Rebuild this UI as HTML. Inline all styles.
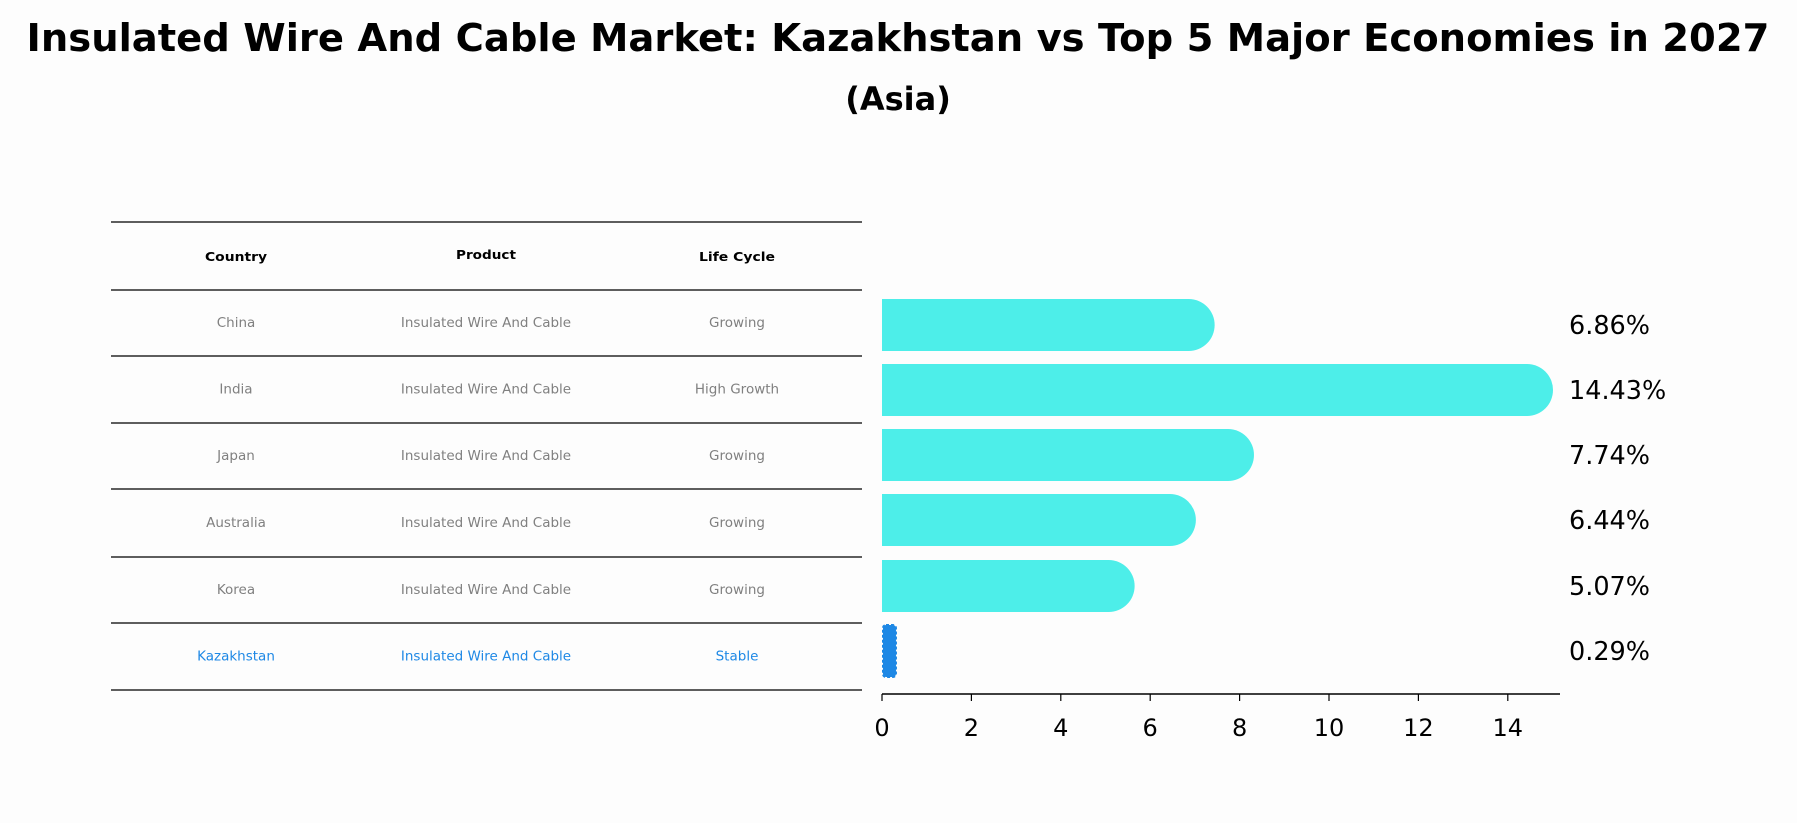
<!DOCTYPE html>
<html><head><meta charset="utf-8"><style>
body{margin:0;background:#fdfdfd;}
svg{display:block;font-family:"DejaVu Sans","Liberation Sans",sans-serif;}
</style></head><body>
<svg id="chart" width="1797" height="823" viewBox="0 0 1797 823">
<rect x="0" y="0" width="1797" height="823" fill="#fdfdfd"/>
<text x="898" y="51" text-anchor="middle" font-size="38.5" font-weight="bold">Insulated Wire And Cable Market: Kazakhstan vs Top 5 Major Economies in 2027</text>
<text x="898" y="110" text-anchor="middle" font-size="32" font-weight="bold">(Asia)</text>
<g id="table"></g>
<g id="bars"></g>
</svg>
<script>
const countries = ["China","India","Japan","Australia","Korea","Kazakhstan"];
const products = ["Insulated Wire And Cable","Insulated Wire And Cable","Insulated Wire And Cable","Insulated Wire And Cable","Insulated Wire And Cable","Insulated Wire And Cable"];
const lifeCycles = ["Growing","High Growth","Growing","Growing","Growing","Stable"];
const values = [6.86,14.43,7.74,6.44,5.07,0.29];
const xTicks = [0,2,4,6,8,10,12,14];

const NS="http://www.w3.org/2000/svg";
function mk(tag,attrs,parent,text){const e=document.createElementNS(NS,tag);for(const k in attrs)e.setAttribute(k,attrs[k]);if(text!==undefined)e.textContent=text;parent.appendChild(e);return e;}

// table
const tbl=document.getElementById('table');
const lineYs=[222,290,356,423,489,557,623,690];
const colX=[236,486,737];
for(const y of lineYs){const l=mk('line',{x1:111,x2:862,y1:y,y2:y,stroke:'#000','stroke-width':1.3},tbl);

}
const headers=["Country","Product","Life Cycle"];
headers.forEach((h,i)=>{const t=mk('text',{x:colX[i],y:i==1?259:261,'text-anchor':'middle','font-size':12.5,'font-weight':'bold','textLength':i==0?62:(i==1?60:76),'lengthAdjust':'spacingAndGlyphs'},tbl,h);

});
countries.forEach((c,r)=>{
  const y=(lineYs[r+1]+lineYs[r+2])/2+4;
  const col=r==countries.length-1?'#1e88e5':'#808080';
  [c,products[r],lifeCycles[r]].forEach((v,i)=>{const t=mk('text',{x:colX[i],y:y,'text-anchor':'middle','font-size':13.5,fill:col},tbl,v);
  
  });
});

// bars
const g=document.getElementById('bars');
const x0=882, unit=44.7, axisY=694, h=52;
const xs=v=>x0+v*unit;
const centers=[325,390,455,520,586,651];
values.forEach((v,i)=>{
  const cy=centers[i], top=cy-h/2, r=h/2;
  const xe=xs(v);
  let el;
  if(i==values.length-1){
    el=mk('rect',{x:x0+1,y:top,width:Math.max(xe-x0,4),height:h,rx:3,fill:'#1e88e5',stroke:'#1e88e5','stroke-width':2,'stroke-dasharray':'3,2'},g);
  } else {
    el=mk('path',{d:`M${x0},${top} L${xe},${top} A${r},${r} 0 0 1 ${xe},${top+h} L${x0},${top+h} Z`,fill:'#4deee9'},g);
  }
  
  
  const t=mk('text',{x:1569,y:cy+9,'font-size':25.5},g,v.toFixed(2)+'%');
  
  
});
const ax=mk('line',{x1:x0,x2:1560,y1:axisY,y2:axisY,stroke:'#000','stroke-width':1.5},g);


xTicks.forEach(v=>{
  const tk=mk('line',{x1:xs(v),x2:xs(v),y1:axisY,y2:axisY+7,stroke:'#000','stroke-width':1.2},g);
  
  
  const t=mk('text',{x:xs(v),y:axisY+42,'text-anchor':'middle','font-size':24},g,String(v));
  
  
});
</script>
</body></html>
